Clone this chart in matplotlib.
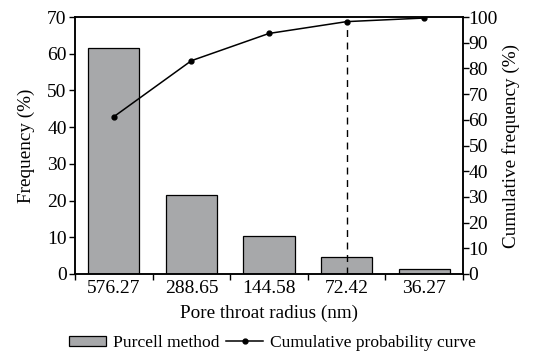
import matplotlib
matplotlib.use("Agg")
import matplotlib.pyplot as plt
import numpy as np

plt.rcParams['font.family'] = ['Liberation Serif', 'DejaVu Serif']

radius_labels = ["576.27", "288.65", "144.58", "72.42", "36.27"]
frequency = [61.6, 21.5, 10.4, 4.5, 1.3]
cumulative = [61.2, 83.0, 93.6, 98.2, 99.6]
marked_index = 3

fig = plt.figure(figsize=(5.45, 3.56), dpi=100)
ax = fig.add_axes([75 / 545, 1 - 274 / 356, 388 / 545, 257 / 356])
ax2 = ax.twinx()

x = np.arange(len(radius_labels))
bars = ax.bar(x, frequency, width=0.66, color="#a7a8aa", edgecolor="black",
              linewidth=0.9, label="Purcell method")
line, = ax2.plot(x, cumulative, color="black", marker="o", markersize=3.5,
                 linewidth=1.1, label="Cumulative probability curve")
ax2.vlines(x[marked_index], 0, cumulative[marked_index], colors="black",
           linestyles=(0, (5, 4)), linewidth=1.0)

ax.set_xlim(-0.5, len(x) - 0.5)
ax.set_ylim(0, 70)
ax2.set_ylim(0, 100)
ax.set_yticks(np.arange(0, 71, 10))
ax2.set_yticks(np.arange(0, 101, 10))

# ticks sit between categories, labels at the centers
ax.set_xticks(np.arange(-0.5, len(x), 1.0))
ax.set_xticklabels([])
ax.set_xticks(x, minor=True)
ax.set_xticklabels(radius_labels, minor=True)
ax.tick_params(axis="x", which="minor", length=0, labelsize=14, pad=4)
ax.tick_params(axis="x", which="major", direction="out", length=4, width=1)
ax.tick_params(axis="y", direction="out", length=4, width=1, labelsize=14, pad=2)
ax2.tick_params(axis="y", direction="out", length=4, width=1, labelsize=14, pad=0)

for a in (ax, ax2):
    for s in a.spines.values():
        s.set_linewidth(1.1)

ax.set_xlabel("Pore throat radius (nm)", fontsize=13.8, labelpad=6)
ax.set_ylabel("Frequency (%)", fontsize=13.8, labelpad=9)
ax2.set_ylabel("Cumulative frequency (%)", fontsize=13.8, labelpad=3)

fig.legend([bars, line], ["Purcell method", "Cumulative probability curve"],
           loc="center", bbox_to_anchor=(0.5, 1 - 343 / 356), ncol=2,
           frameon=False, fontsize=12.6, handlelength=2.1, handleheight=0.55,
           handletextpad=0.4, columnspacing=0.4)

fig.savefig("out.png", dpi=100)
